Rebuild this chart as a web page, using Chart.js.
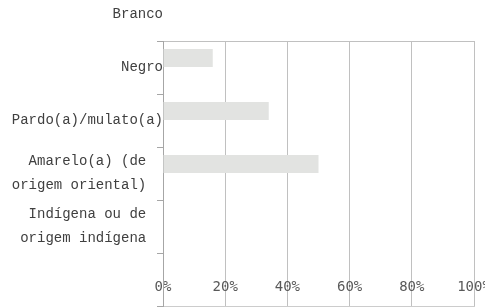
<!DOCTYPE html>
<html>
<head>
<meta charset="utf-8">
<script src="https://cdn.jsdelivr.net/npm/chart.js@4/dist/chart.umd.min.js"></script>
<style>
  html, body { margin: 0; padding: 0; background: #fff; }
  #wrap { width: 485px; height: 308px; }
</style>
</head>
<body>
<div id="wrap"><canvas id="myChart" width="485" height="308"></canvas></div>
<script>
// categorias (rótulos do eixo vertical) e valores em %
const categories = ['Branco', 'Negro', 'Pardo(a)/mulato(a)', ['Amarelo(a) (de', 'origem oriental)'], ['Indígena ou de', 'origem indígena']];
const values = [null, 16, 34, 50, 0];
const xTicks = [0, 20, 40, 60, 80, 100];

const gridColor = '#c0c0c0';
const axisColor = '#a6a6a6';
const bandHeight = 53;

const ctx = document.getElementById('myChart').getContext('2d');
new Chart(ctx, {
    type: 'bar',
    data: {
        labels: categories,
        datasets: [
            {
                label: 'Cor/raça',
                data: values,
                backgroundColor: '#e2e3e1',
                categoryPercentage: 0.72,
                barPercentage: 0.95
            },
            {
                // segunda série vazia (reserva o espaço abaixo de cada barra)
                label: '',
                data: [],
                categoryPercentage: 0.72,
                barPercentage: 0.95
            }
        ]
    },
    options: {
        indexAxis: 'y',
        responsive: false,
        animation: false,
        layout: { padding: { top: 41, right: 11, bottom: 2, left: 0 } },
        plugins: { legend: { display: false }, tooltip: { enabled: false } },
        scales: {
            x: {
                min: 0,
                max: 100,
                afterBuildTicks: (axis) => { axis.ticks = xTicks.map(v => ({ value: v })); },
                ticks: {
                    mirror: true,
                    padding: 10,
                    maxRotation: 0,
                    color: '#595959',
                    font: { family: 'DejaVu Sans Mono', size: 14 },
                    callback: v => v + '%'
                },
                grid: { color: gridColor, drawTicks: false },
                border: { color: '#cccccc' },
                afterFit: (axis) => { axis.height = 0; axis.paddingLeft = 0; axis.paddingRight = 0; }
            },
            y: {
                type: 'category',
                labels: categories.concat(['']),
                min: 1,
                weight: 0,
                ticks: { display: false },
                grid: {
                    tickLength: 6,
                    tickColor: axisColor,
                    color: c => c.index === 0 ? gridColor : 'rgba(0,0,0,0)'
                },
                border: { color: axisColor },
                afterFit: (axis) => { axis.width = 0; axis.paddingTop = 0; axis.paddingBottom = 0; }
            },
            yLabels: {
                type: 'category',
                position: 'left',
                labels: categories,
                weight: 1,
                offset: true,
                grid: { display: false, drawTicks: false },
                border: { display: false },
                ticks: {
                    autoSkip: false,
                    padding: 0,
                    labelOffset: -bandHeight,
                    color: '#404040',
                    font: { family: 'Liberation Mono', size: 14, lineHeight: 1.75 },
                    callback: function (value) {
                        const l = this.getLabelForValue(value);
                        return Array.isArray(l) ? l.map(s => s + '  ') : l;
                    }
                },
                afterFit: (axis) => { axis.width = 163; axis.paddingTop = 0; axis.paddingBottom = 0; }
            }
        }
    }
});
</script>
</body>
</html>
